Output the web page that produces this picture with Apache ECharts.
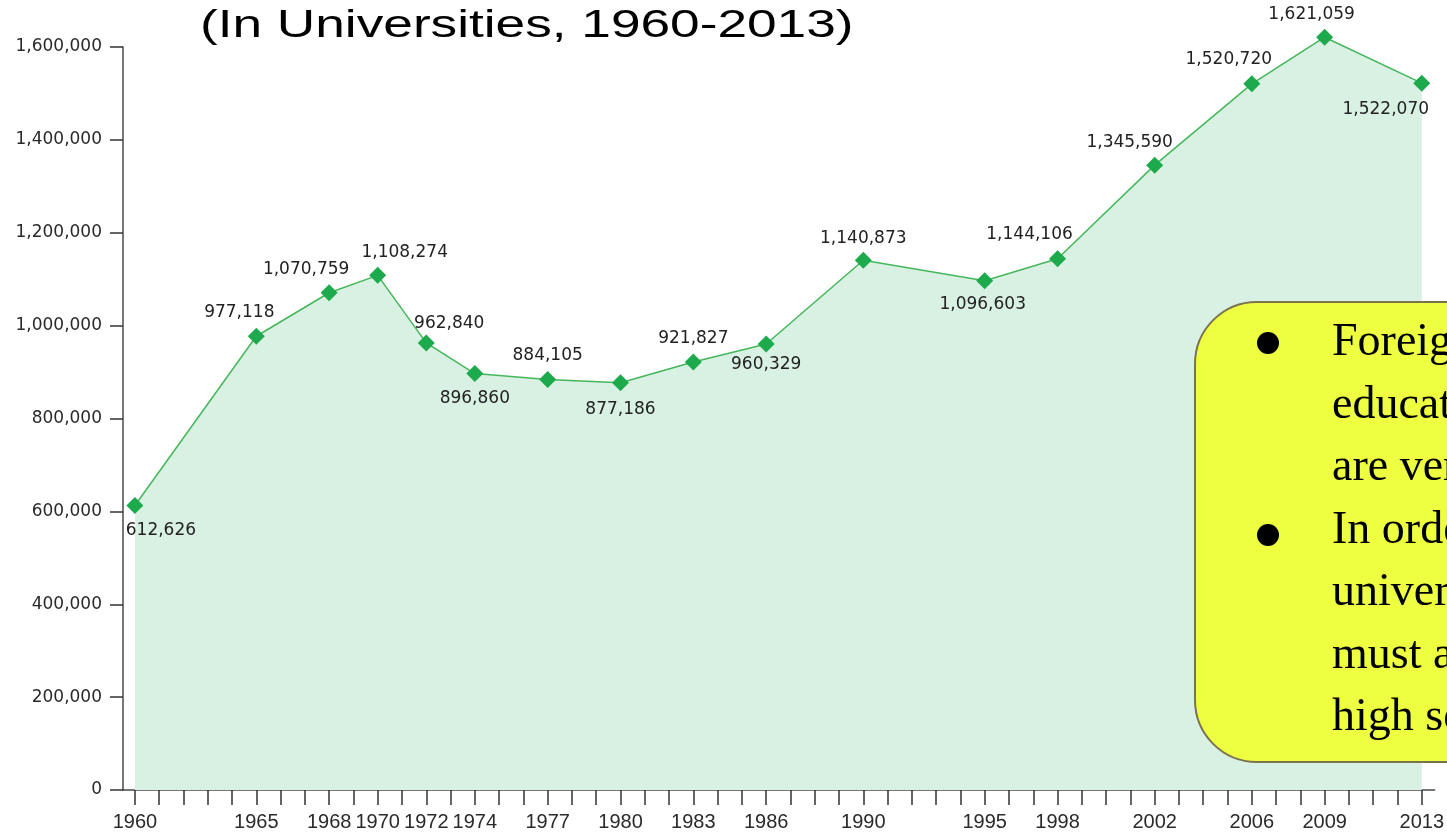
<!DOCTYPE html>
<html>
<head>
<meta charset="utf-8">
<title>Students in Universities 1960-2013</title>
<script src="https://cdn.jsdelivr.net/npm/echarts@6/dist/echarts.min.js"></script>
<style>
    html, body { margin: 0; padding: 0; background: #fff; }
    #chart { width: 1447px; height: 835px; }
</style>
</head>
<body>
<div id="chart"></div>
<script>
    // data
    var years = [1960, 1965, 1968, 1970, 1972, 1974, 1977, 1980, 1983, 1986, 1990, 1995, 1998, 2002, 2006, 2009, 2013];
    var students = [612626, 977118, 1070759, 1108274, 962840, 896860, 884105, 877186, 921827, 960329,
        1140873, 1096603, 1144106, 1345590, 1520720, 1621059, 1522070];
    var yTicks = [0, 200000, 400000, 600000, 800000, 1000000, 1200000, 1400000, 1600000];

    // where each value label sits relative to its point (px)
    var labelOffsets = [[26, 25], [-17, -24], [-23, -23], [27, -23], [23, -19], [0, 25], [0, -24], [0, 27],
        [0, -23], [0, 21], [0, -22], [-2, 24], [-28, -24], [-25, -23], [-23, -24], [-13, -23], [-36, 26]];

    var noteLines = ['Foreign students\u2019', 'education costs', 'are very high.', 'In order to enter',
        'universities, they', 'must achieve', 'high scores.'];

    var allYears = [];
    for (var y = years[0]; y <= years[years.length - 1]; y++) allYears.push(y);

    var seriesData = years.map(function (yr, i) {
        return {
            value: [yr, students[i]],
            label: { offset: labelOffsets[i] }
        };
    });

    var chart = echarts.init(document.getElementById('chart'));

    var graphics = [{
        type: 'text',
        x: 200,
        y: 27,
        z: 10,
        scaleX: 1.4,
        style: {
            text: '(In Universities, 1960-2013)',
            font: '38px "Liberation Sans", Arial, sans-serif',
            fill: '#000',
            verticalAlign: 'middle'
        }
    }, {
        type: 'rect',
        z: 10,
        shape: { x: 1195, y: 302, width: 320, height: 460, r: 62 },
        style: { fill: '#eeff42', stroke: '#7b7350', lineWidth: 2 }
    }];
    noteLines.forEach(function (t, i) {
        graphics.push({
            type: 'text',
            z: 11,
            x: 1332,
            y: 343 + i * 62.5,
            style: {
                text: t,
                font: '46px "Liberation Serif", "Times New Roman", serif',
                fill: '#000',
                verticalAlign: 'middle'
            }
        });
    });
    [343, 535].forEach(function (cy) {
        graphics.push({
            type: 'circle',
            z: 11,
            shape: { cx: 1268, cy: cy, r: 11 },
            style: { fill: '#000' }
        });
    });

    chart.setOption({
        animation: false,
        grid: { left: 123, right: 10, top: 47, bottom: 45 },
        xAxis: {
            type: 'value',
            min: 1959.51,
            max: 2013.53,
            axisLine: { lineStyle: { color: '#4a4a4a', width: 1.5 } },
            axisTick: {
                show: true,
                length: 15,
                customValues: allYears,
                lineStyle: { color: '#333', width: 1.5 }
            },
            axisLabel: {
                customValues: years,
                margin: 22,
                color: '#2a2a2a',
                fontSize: 20,
                fontFamily: '"Liberation Sans", Arial, sans-serif',
                formatter: function (v) { return String(v); }
            },
            splitLine: { show: false }
        },
        yAxis: {
            type: 'value',
            min: 0,
            max: 1600000,
            interval: 200000,
            axisLine: { show: true, lineStyle: { color: '#4a4a4a', width: 1.5 } },
            axisTick: { show: true, length: 13, lineStyle: { color: '#333', width: 1.5 } },
            axisLabel: {
                customValues: yTicks,
                margin: 21,
                color: '#2a2a2a',
                fontSize: 17,
                fontFamily: '"DejaVu Sans", sans-serif'
            },
            splitLine: { show: false }
        },
        series: [{
            type: 'line',
            clip: false,
            data: seriesData,
            symbol: 'diamond',
            symbolSize: 17,
            itemStyle: { color: '#1daa4c' },
            lineStyle: { color: '#45b65b', width: 1.5 },
            areaStyle: { color: '#d9f1e3', opacity: 1 },
            label: {
                show: true,
                position: 'inside',
                color: '#222',
                fontSize: 17,
                fontFamily: '"DejaVu Sans", sans-serif',
                formatter: function (p) { return p.value[1].toLocaleString('en-US'); }
            }
        }],
        graphic: graphics
    });
</script>
</body>
</html>
